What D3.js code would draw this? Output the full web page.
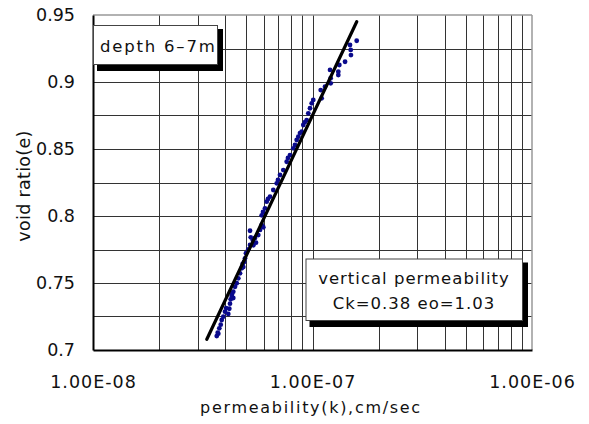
<!DOCTYPE html>
<html>
<head>
<meta charset="utf-8">
<script src="https://cdn.jsdelivr.net/npm/d3@7/dist/d3.min.js"></script>
<style>
  html, body { margin: 0; padding: 0; background: #fff; }
  svg { display: block; }
  text { font-family: "DejaVu Sans", sans-serif; fill: #111; }
</style>
</head>
<body>
<svg id="chart" width="589" height="424"></svg>
<script>
// ---- data ----
const xTickValues = [1e-8, 1e-7, 1e-6];
const xTickLabels = ["1.00E-08", "1.00E-07", "1.00E-06"];
const yTickValues = [0.7, 0.75, 0.8, 0.85, 0.9, 0.95];
const yTickLabels = ["0.7", "0.75", "0.8", "0.85", "0.9", "0.95"];

// measured permeability k (cm/sec) and void ratio e
const pointK = [
  3.662e-8, 3.723e-8, 3.700e-8, 3.762e-8, 3.818e-8, 3.858e-8, 3.923e-8, 4.134e-8, 3.994e-8, 4.178e-8,
  4.208e-8, 4.239e-8, 4.356e-8, 4.284e-8, 4.356e-8, 4.436e-8, 4.516e-8, 4.592e-8, 4.675e-8, 4.758e-8,
  4.839e-8, 4.808e-8, 4.926e-8, 4.977e-8, 5.099e-8, 5.374e-8, 5.192e-8, 5.528e-8, 5.341e-8, 5.231e-8,
  5.663e-8, 5.192e-8, 5.765e-8, 5.969e-8, 5.869e-8, 5.869e-8, 6.076e-8, 6.185e-8, 6.403e-8, 6.629e-8,
  6.869e-8, 7.111e-8, 7.362e-8, 7.629e-8, 7.897e-8, 8.175e-8, 8.472e-8, 8.616e-8, 8.929e-8, 9.081e-8,
  9.410e-8, 9.570e-8, 9.741e-8, 9.917e-8, 1.008e-7, 1.101e-7, 1.090e-7, 1.140e-7, 1.210e-7, 1.210e-7,
  1.311e-7, 1.311e-7, 1.202e-7, 1.325e-7, 1.407e-7, 1.482e-7, 1.493e-7, 1.497e-7, 1.590e-7,
  6.96e-8, 7.73e-8, 8.32e-8, 8.77e-8, 9.24e-8, 6.27e-8, 5.95e-8, 4.04e-8, 4.30e-8, 4.88e-8, 5.47e-8
];
const pointE = [
  0.7104, 0.7122, 0.7129, 0.7162, 0.7189, 0.7224, 0.7249, 0.7269, 0.7286, 0.7308,
  0.7346, 0.7378, 0.7388, 0.7403, 0.7435, 0.7472, 0.7498, 0.7535, 0.7572, 0.7610,
  0.7619, 0.7642, 0.7684, 0.7722, 0.7751, 0.7781, 0.7784, 0.7801, 0.7821, 0.7841,
  0.7858, 0.7890, 0.7896, 0.7916, 0.7933, 0.8005, 0.8057, 0.8107, 0.8144, 0.8194,
  0.8244, 0.8306, 0.8343, 0.8405, 0.8455, 0.8505, 0.8567, 0.8592, 0.8629, 0.8679,
  0.8716, 0.8766, 0.8804, 0.8841, 0.8866, 0.8878, 0.8940, 0.8965, 0.8990, 0.9028,
  0.9052, 0.9077, 0.9090, 0.9127, 0.9151, 0.9276, 0.9239, 0.9201, 0.9308,
  0.8269, 0.8433, 0.8530, 0.8619, 0.8701, 0.8127, 0.8030, 0.7313, 0.7418, 0.7657, 0.7836
];

// fitted line end points
const fitK = [3.30e-8, 1.59e-7];
const fitE = [0.708, 0.945];

const legend1 = ["depth 6\u20137m"];
const legend2 = ["vertical permeability", "Ck=0.38 eo=1.03"];
const xTitle = "permeability(k),cm/sec";
const yTitle = "void ratio(e)";

// ---- layout ----
const svg = d3.select("#chart");
const L = 93, R = 532, T = 15, B = 350;

const x = d3.scaleLog().domain([1e-8, 1e-6]).range([L, R]);
const y = d3.scaleLinear().domain([0.7, 0.95]).range([B, T]);

// grid
const vGrid = [];
for (let dec = -8; dec < -6; dec++) {
  for (let m = 1; m <= 9; m++) vGrid.push(m * Math.pow(10, dec));
}
const hGrid = d3.range(0, 11).map(i => 0.7 + i * 0.025);

const g = svg.append("g");
g.selectAll("line.v").data(vGrid.slice(1)).join("line")
  .attr("x1", d => Math.round(x(d)) + 0.5).attr("x2", d => Math.round(x(d)) + 0.5)
  .attr("y1", T).attr("y2", B)
  .attr("stroke", "#333").attr("stroke-width", 1);
g.selectAll("line.h").data(hGrid.slice(1, -1)).join("line")
  .attr("y1", d => Math.round(y(d)) + 0.5).attr("y2", d => Math.round(y(d)) + 0.5)
  .attr("x1", L).attr("x2", R)
  .attr("stroke", "#333").attr("stroke-width", 1);

// frame: top/right gray, left/bottom black
g.append("line").attr("x1", L).attr("x2", R).attr("y1", T).attr("y2", T)
  .attr("stroke", "#999").attr("stroke-width", 1.5);
g.append("line").attr("x1", R).attr("x2", R).attr("y1", T).attr("y2", B)
  .attr("stroke", "#999").attr("stroke-width", 1.5);

// axes via d3
const yAxis = d3.axisLeft(y).tickValues(yTickValues)
  .tickFormat((d, i) => yTickLabels[i]).tickSize(0).tickPadding(18);
const yg = svg.append("g").attr("transform", `translate(${L},0)`).call(yAxis);
yg.select(".domain").attr("stroke", "#000").attr("stroke-width", 2);
yg.selectAll("text").attr("font-size", 17.5).attr("fill", "#111")
  .attr("font-family", "DejaVu Sans, sans-serif");

const xAxis = d3.axisBottom(x).tickValues(xTickValues)
  .tickFormat((d, i) => xTickLabels[i]).tickSize(0).tickPadding(26);
const xg = svg.append("g").attr("transform", `translate(0,${B})`).call(xAxis);
xg.select(".domain").attr("stroke", "#000").attr("stroke-width", 2);
xg.selectAll("text").attr("font-size", 17.5).attr("fill", "#111")
  .attr("letter-spacing", 1.0).attr("font-family", "DejaVu Sans, sans-serif");

// titles
svg.append("text").attr("x", 311).attr("y", 413).attr("text-anchor", "middle")
  .attr("font-size", 16).attr("letter-spacing", 1.7).text(xTitle);
svg.append("text").attr("transform", "translate(30,186) rotate(-90)")
  .attr("text-anchor", "middle").attr("font-size", 17.5).attr("letter-spacing", 0.3).text(yTitle);

// points
const pts = pointK.map((k, i) => ({k, e: pointE[i]}));
svg.append("g").selectAll("circle").data(pts).join("circle")
  .attr("cx", d => x(d.k)).attr("cy", d => y(d.e)).attr("r", 2.4)
  .attr("fill", "#0a0a8c");

// fitted line
const fit = fitK.map((k, i) => ({k, e: fitE[i]}));
svg.append("path").datum(fit)
  .attr("d", d3.line().x(d => x(d.k)).y(d => y(d.e)))
  .attr("stroke", "#000").attr("stroke-width", 3.2).attr("fill", "none")
  .attr("stroke-linecap", "round");

// legend boxes with shadow
function box(x0, y0, w, h, lines, opts) {
  const gg = svg.append("g");
  gg.append("rect").attr("x", x0 + 4).attr("y", y0 + 4).attr("width", w + 2).attr("height", h + 3)
    .attr("fill", "#000");
  gg.append("rect").attr("x", x0 + 0.5).attr("y", y0 + 0.5).attr("width", w).attr("height", h)
    .attr("fill", "#fff").attr("stroke", "#444").attr("stroke-width", 1);
  lines.forEach((t, i) => {
    gg.append("text").attr("x", opts.tx).attr("y", opts.ty + i * opts.lh)
      .attr("text-anchor", opts.anchor).attr("font-size", opts.fs)
      .attr("letter-spacing", opts.ls).text(t);
  });
}
box(93, 25, 124, 39, legend1, {tx: 100, ty: 52, lh: 0, anchor: "start", fs: 16.5, ls: 1.8});
box(305.5, 258.5, 216.5, 61.5, legend2, {tx: 414, ty: 284, lh: 25, anchor: "middle", fs: 16.5, ls: 1.0});
</script>
</body>
</html>
